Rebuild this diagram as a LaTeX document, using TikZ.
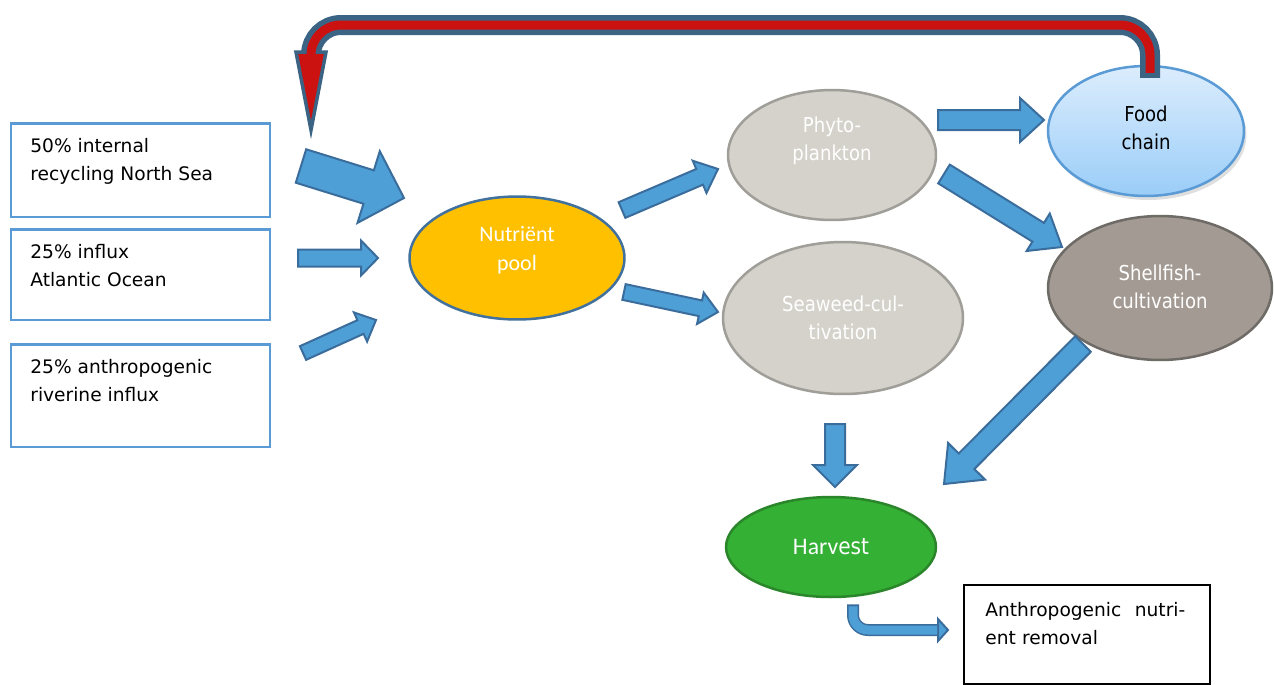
\documentclass[tikz,border=0pt]{standalone}
\usepackage{fontspec}
\setmainfont{DejaVu Sans}
\newfontfamily\condfont[FakeStretch=0.88]{DejaVu Sans}
\newfontfamily\calfont{Carlito}
\usetikzlibrary{shapes.geometric,calc,positioning,shadows}

\definecolor{flowfill}{HTML}{4F9FD7}
\definecolor{flowline}{HTML}{3A6D9C}
\definecolor{boxline}{HTML}{5B9BD5}
\definecolor{poolfill}{HTML}{FFC000}
\definecolor{poolline}{HTML}{41719C}
\definecolor{grayfill}{HTML}{D4D2CA}
\definecolor{grayline}{HTML}{A09E98}
\definecolor{shellfill}{HTML}{A39A93}
\definecolor{shellline}{HTML}{6E6A65}
\definecolor{foodtop}{HTML}{DCEDFD}
\definecolor{foodbot}{HTML}{9ACDF8}
\definecolor{harvfill}{HTML}{34B034}
\definecolor{harvline}{HTML}{2B862B}
\definecolor{loopred}{HTML}{CC1111}
\definecolor{loopblue}{HTML}{3B6384}

% tail, tip, shaft half width, head half width, head length (px)
\newcommand{\blockarr}[5]{%
  \pgfmathsetlengthmacro{\bws}{#3*0.02cm}%
  \pgfmathsetlengthmacro{\bwh}{#4*0.02cm}%
  \pgfmathsetlengthmacro{\bwl}{#5*0.02cm}%
  \coordinate (bb) at ($(#2)!\bwl!(#1)$);
  \path[flow] ($(#1)!\bws!90:(#2)$) -- ($(bb)!\bws!90:(#2)$)
    -- ($(bb)!\bwh!90:(#2)$) -- (#2) -- ($(bb)!\bwh!-90:(#2)$)
    -- ($(bb)!\bws!-90:(#2)$) -- ($(#1)!\bws!-90:(#2)$) -- cycle;
}

\begin{document}
\begin{tikzpicture}[x=0.02cm, y=-0.02cm,
    srcbox/.style={draw=boxline, line width=0.05cm, anchor=north west,
      minimum width=5.18cm, inner sep=0pt},
    srctext/.style={anchor=north west, xshift=0.4cm, yshift=-0.32cm,
      align=left, inner sep=0pt, font=\fontsize{10.6}{15.9}\selectfont},
    blob/.style={ellipse, inner sep=0pt, line width=0.05cm},
    blobtext/.style={anchor=center, align=center, inner sep=0pt, text=white,
      font=\condfont\fontsize{11.7}{15.9}\selectfont},
    flow/.style={fill=flowfill, draw=flowline, line width=0.04cm},
    loopout/.style={draw=loopblue, line width=0.4cm, rounded corners=0.6cm},
    loopin/.style={draw=loopred, line width=0.18cm, rounded corners=0.6cm},
  ]
    \fill[white] (0,0) rectangle (1274,684);
    \useasboundingbox (0,0) rectangle (1274,684);

    \node[srcbox, minimum height=1.88cm,
      label={[srctext]north west:{50\% internal\\recycling North Sea}}] (recyc) at (10,122) {};
    \node[srcbox, minimum height=1.82cm,
      label={[srctext]north west:{25\% influx\\Atlantic Ocean}}] (atlan) at (10,228) {};
    \node[srcbox, minimum height=2.06cm,
      label={[srctext]north west:{25\% anthropogenic\\riverine influx}}] (river) at (10,343) {};

    \node[blob, fill=poolfill, draw=poolline, minimum width=4.3cm, minimum height=2.46cm,
      label={[blobtext, font=\calfont\fontsize{12.5}{16.4}\selectfont, yshift=0.16cm]center:{Nutriënt\\pool}}] (pool) at (517,258) {};
    \node[blob, fill=grayfill, draw=grayline, minimum width=4.16cm, minimum height=2.6cm,
      label={[blobtext, yshift=0.28cm]center:{Phyto-\\plankton}}] (phyto) at (832,155) {};
    \node[blob, fill=grayfill, draw=grayline, minimum width=4.8cm, minimum height=3.04cm,
      label={[blobtext]center:{Seaweed-cul-\\tivation}}] (weed) at (843,318) {};
    \node[blob, top color=foodtop, bottom color=foodbot, draw=boxline,
      drop shadow={opacity=0.25, shadow xshift=0.05cm, shadow yshift=-0.08cm},
      minimum width=3.92cm, minimum height=2.6cm,
      label={[blobtext, text=black, yshift=0.06cm]center:{Food\\chain}}] (food) at (1146,131) {};
    \node[blob, fill=shellfill, draw=shellline, minimum width=4.48cm, minimum height=2.88cm,
      label={[blobtext, yshift=0.03cm]center:{Shellfish-\\cultivation}}] (shell) at (1160,288) {};
    \node[blob, fill=harvfill, draw=harvline, minimum width=4.2cm, minimum height=2.0cm,
      label={[blobtext]center:{{\calfont\fontsize{13.5}{16}\selectfont Harv}{\fontsize{13}{16}\selectfont est}}}] (harv) at (831,547) {};

    \node[draw=black, line width=0.04cm, anchor=north west, minimum width=4.92cm,
      minimum height=1.98cm, inner sep=0pt,
      label={[srctext, text width=4cm, xshift=0.04cm, yshift=-0.04cm]north west:{Anthropogenic\hfill nutri-\\ent removal}}] (remov) at (963,584) {};

    \coordinate (a1t) at (301,166);  \coordinate (a1h) at (404,198);
    \coordinate (a2t) at (298,258);  \coordinate (a2h) at (378,258);
    \coordinate (a3t) at (303,353);  \coordinate (a3h) at (376,320);
    \coordinate (a4t) at (622,210);  \coordinate (a4h) at (718,169);
    \coordinate (a5t) at (624,292);  \coordinate (a5h) at (718,312);
    \coordinate (a6t) at (938,120);  \coordinate (a6h) at (1044,120);
    \coordinate (a7t) at (944,174);  \coordinate (a7h) at (1062,247);
    \coordinate (a8t) at (835,424);  \coordinate (a8h) at (835,487);
    \coordinate (a9t) at (1083,344); \coordinate (a9h) at (944,484);
    \blockarr{a1t}{a1h}{17.5}{37.5}{37}
    \blockarr{a2t}{a2h}{8.5}{17.5}{17}
    \blockarr{a3t}{a3h}{7.5}{16}{17}
    \blockarr{a4t}{a4h}{8.5}{17.5}{20}
    \blockarr{a5t}{a5h}{8}{16}{18}
    \blockarr{a6t}{a6h}{10}{22}{24}
    \blockarr{a7t}{a7h}{11}{22}{28}
    \blockarr{a8t}{a8h}{10}{22}{22}
    \blockarr{a9t}{a9h}{11}{26}{32}

    \coordinate (bnt) at ([shift={(0.44cm,-0.12cm)}]harv.south);
    \coordinate (bnh) at (948,630);
    \draw[flowline, line width=0.24cm, rounded corners=0.3cm] (bnt) |- ([xshift=-0.2cm]bnh);
    \path[flow] (938,619) -- (bnh) -- (938,641) -- cycle;
    \draw[flowfill, line width=0.18cm, rounded corners=0.3cm] ([yshift=-0.04cm]bnt) |- ([xshift=-0.22cm]bnh);

    \coordinate (lpa) at ([shift={(0.08cm,-0.26cm)}]food.north);
    \coordinate (lpb) at (311,62);
    \draw[loopout] (lpa) -- (1150,25) -- (311,25) -- (lpb);
    \filldraw[fill=loopred, draw=loopblue, line width=0.07cm] (296,52) -- (326,52) -- (311,130) -- cycle;
    \draw[loopin] ([yshift=0.1cm]lpa) -- (1150,25) -- (311,25) -- (311,66);
  \end{tikzpicture}
\end{document}
